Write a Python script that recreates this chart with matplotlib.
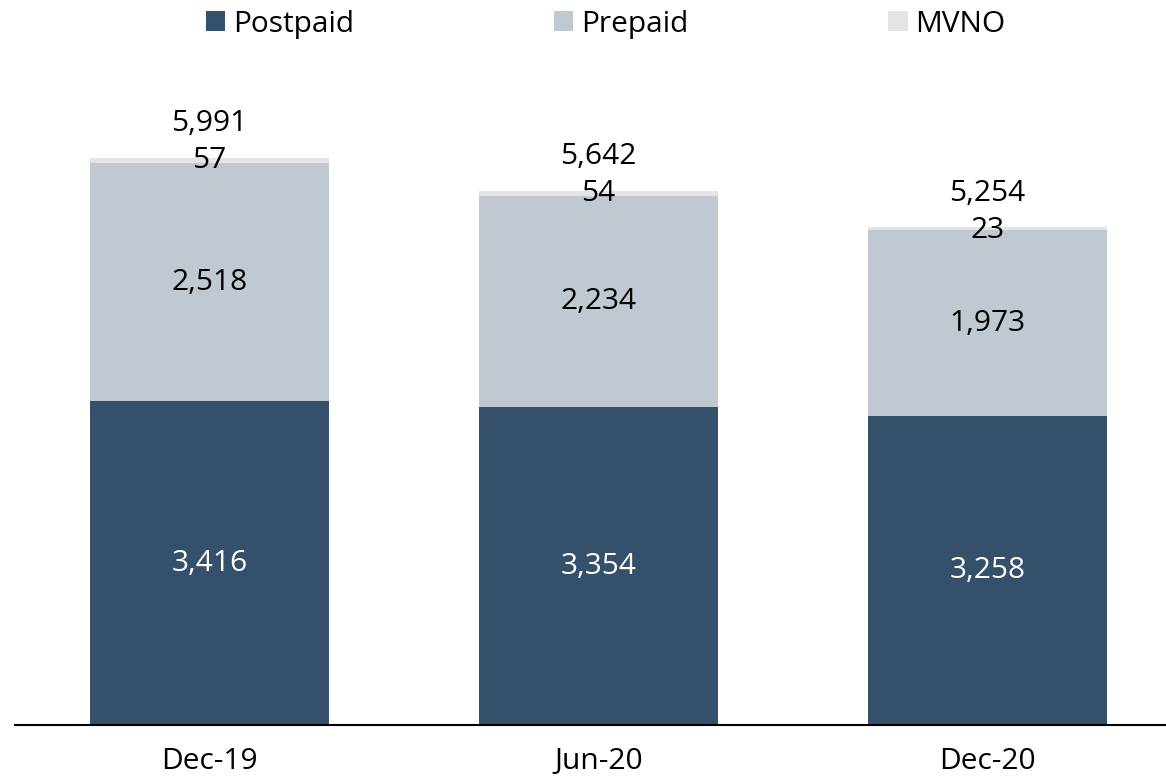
import matplotlib.pyplot as plt
import numpy as np

categories = ["Dec-19", "Jun-20", "Dec-20"]
postpaid = [3416, 3354, 3258]
prepaid = [2518, 2234, 1973]
mvno = [57, 54, 23]
totals = [5991, 5642, 5254]

plt.rcParams["font.family"] = ["Open Sans", "DejaVu Sans"]

COL_POST = "#35506b"
COL_PRE = "#c0c8d2"
COL_MVNO = "#e4e4e4"

fig = plt.figure(figsize=(11.66, 7.77), dpi=100)
ax = fig.add_axes([15 / 1166, 52 / 777, 1 - 15 / 1166, 665 / 777])

x = np.arange(len(categories))
w = 0.614
post = np.array(postpaid)
pre = np.array(prepaid)
mv = np.array(mvno)

ax.bar(x, post, w, color=COL_POST, label="Postpaid")
ax.bar(x, pre, w, bottom=post, color=COL_PRE, label="Prepaid")
ax.bar(x, mv, w, bottom=post + pre, color=COL_MVNO, label="MVNO")

fs = 21.5
for i in range(len(categories)):
    ax.text(x[i], post[i] / 2, f"{postpaid[i]:,}", ha="center", va="center",
            color="white", fontsize=fs)
    ax.text(x[i], post[i] + pre[i] / 2, f"{prepaid[i]:,}", ha="center", va="center",
            color="black", fontsize=fs)
    top = post[i] + pre[i] + mv[i]
    ax.text(x[i], top - 30, f"{mvno[i]:,}", ha="center", va="center",
            color="black", fontsize=fs)
    ax.text(x[i], top + 360, f"{totals[i]:,}", ha="center", va="center",
            color="black", fontsize=fs)

ax.set_xlim(-0.5, 2.459)
ax.set_ylim(0, 7022)
ax.set_xticks(x)
ax.set_xticklabels(categories, fontsize=fs)
ax.tick_params(axis="x", length=0, pad=16)
ax.set_yticks([])
for s in ("top", "right", "left"):
    ax.spines[s].set_visible(False)
ax.spines["bottom"].set_linewidth(1.5)
ax.spines["bottom"].set_color("black")

fig.legend(loc="upper center", bbox_to_anchor=(0.5195, 1.022), ncol=3, frameon=False,
           fontsize=fs, handlelength=0.65, handleheight=0.65, handletextpad=0.25,
           columnspacing=6.7)

fig.savefig("out.png", dpi=100)
